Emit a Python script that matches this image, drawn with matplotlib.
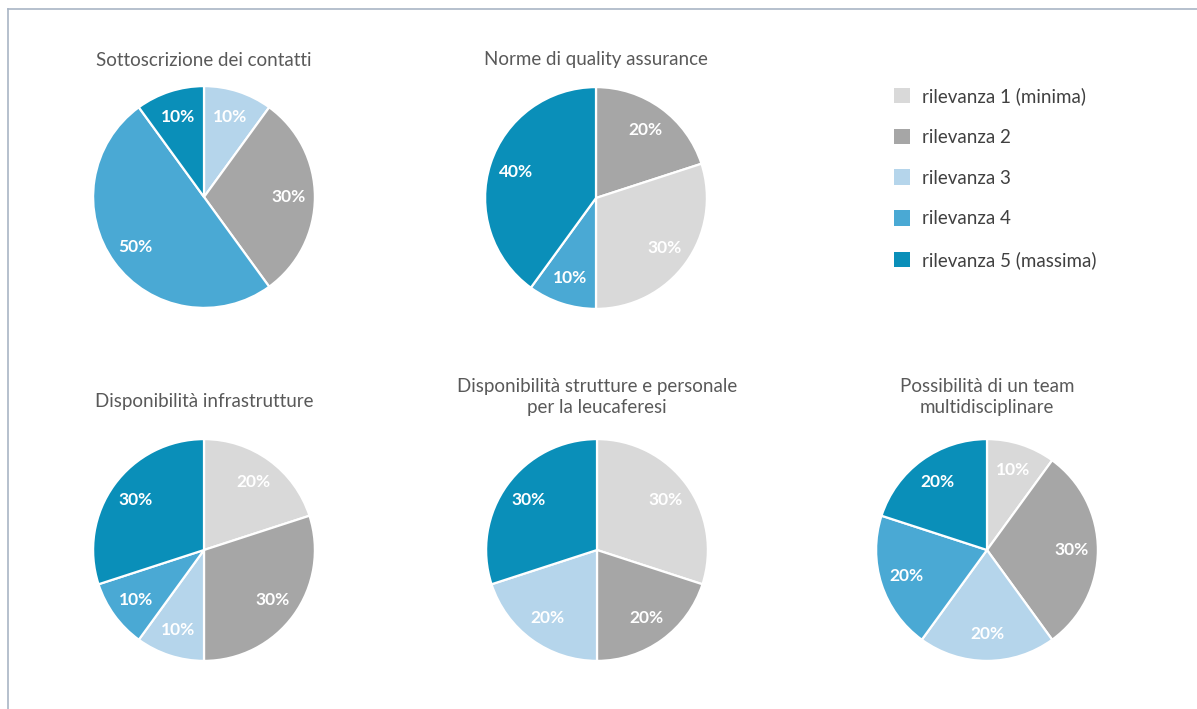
import matplotlib.pyplot as plt
from matplotlib.patches import Patch
from matplotlib.lines import Line2D

plt.rcParams['font.family'] = ['Lato', 'DejaVu Sans']

W, H = 1197, 709

# categorie di rilevanza e colori
categorie = ['rilevanza 1 (minima)', 'rilevanza 2', 'rilevanza 3',
             'rilevanza 4', 'rilevanza 5 (massima)']
colori = ['#d9d9d9', '#a6a6a6', '#b5d5eb', '#4aa9d4', '#0a8fb9']

titoli = ['Sottoscrizione dei contatti',
          'Norme di quality assurance',
          'Disponibilità infrastrutture',
          'Disponibilità strutture e personale\nper la leucaferesi',
          'Possibilità di un team\nmultidisciplinare']

# livello di rilevanza (1-5) di ogni spicchio, in senso orario dall'alto
livelli_contatti = [3, 2, 4, 5]
valori_contatti = [10, 30, 50, 10]

livelli_quality = [2, 1, 4, 5]
valori_quality = [20, 30, 10, 40]

livelli_infra = [1, 2, 3, 4, 5]
valori_infra = [20, 30, 10, 10, 30]

livelli_leuca = [1, 2, 3, 5]
valori_leuca = [30, 20, 20, 30]

livelli_team = [1, 2, 3, 4, 5]
valori_team = [10, 30, 20, 20, 20]

livelli = [livelli_contatti, livelli_quality, livelli_infra, livelli_leuca, livelli_team]
valori = [valori_contatti, valori_quality, valori_infra, valori_leuca, valori_team]

# centri delle torte in pixel e posizione del titolo
centri = [(204, 197), (596, 198), (204, 550), (597, 550), (987, 550)]
titoli_y = [60, 60, 401, 397, 397]
raggio = 112

fig = plt.figure(figsize=(W / 100, H / 100), dpi=100)

for i in range(5):
    cx, cy = centri[i]
    ax = fig.add_axes([(cx - raggio) / W, 1 - (cy + raggio) / H,
                       2 * raggio / W, 2 * raggio / H])
    col = [colori[l - 1] for l in livelli[i]]
    wedges, testi, pct = ax.pie(valori[i], colors=col, startangle=90, counterclock=False,
                                autopct=lambda p: f'{p:.0f}%', pctdistance=0.76,
                                wedgeprops=dict(edgecolor='white', linewidth=1.6))
    for t in pct:
        t.set_color('white')
        t.set_fontweight('bold')
        t.set_fontsize(12.5)
    ax.set_xlim(-1.01, 1.01)
    ax.set_ylim(-1.01, 1.01)
    fig.text(cx / W, 1 - titoli_y[i] / H, titoli[i], ha='center', va='center',
             fontsize=13.5, color='#595959', linespacing=1.35)

# legenda
handles = [Patch(facecolor=c, edgecolor='none') for c in colori]
fig.legend(handles, categorie, loc='upper left', bbox_to_anchor=(877 / W, 1 - 70 / H),
           frameon=False, fontsize=13.5, labelcolor='#404040',
           handlelength=0.87, handleheight=0.87, handletextpad=0.65, labelspacing=1.27)

# cornice sui bordi superiore e sinistro
fig.add_artist(Line2D([8 / W, 8 / W], [0, 1 - 9 / H], color='#a9b5c5', linewidth=1.2))
fig.add_artist(Line2D([8 / W, 1], [1 - 9 / H, 1 - 9 / H], color='#a9b5c5', linewidth=1.2))

fig.savefig('out.png', dpi=100, facecolor='white')
